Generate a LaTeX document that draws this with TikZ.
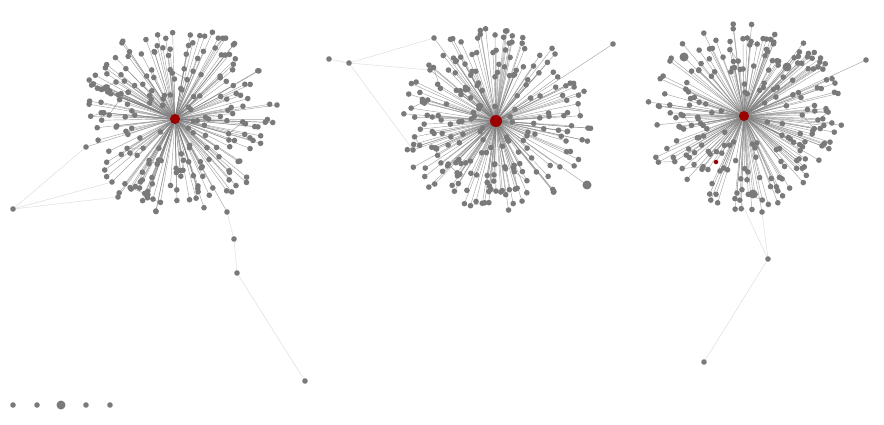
\documentclass[tikz,border=0pt]{standalone}
\definecolor{dotgray}{HTML}{7A7A7A}
\definecolor{hubred}{HTML}{9A0000}
\definecolor{edgegray}{HTML}{808080}
% place random leaf coordinates around a hub and draw hub edges
\newcommand\makestar[5]{%
  \xdef\qx{#2}\xdef\qy{#3}%
  \foreach \i in {1,...,#5}{%
    \pgfmathsetmacro\ang{360*rnd}%
    \pgfmathsetmacro\rad{#4*(0.12+0.88*sqrt(rnd))}%
    \pgfmathsetmacro\px{#2+\rad*cos(\ang)}%
    \pgfmathsetmacro\py{#3+0.97*\rad*sin(\ang)}%
    \coordinate (#1p\i) at (\px,\py);%
    \draw[edge] (#1) -- (#1p\i);%
    \pgfmathsetmacro\dd{veclen(\px-\qx,\py-\qy)}%
    \ifdim\dd pt<22pt\relax
      \ifdim\rad pt>40pt\relax
        \pgfmathtruncatemacro\j{\i-1}%
        \draw[edge] (#1p\j) -- (#1p\i);%
      \fi
    \fi
    \xdef\qx{\px}\xdef\qy{\py}%
  }}
\newcommand\makeleaves[2]{%
  \foreach \i in {1,...,#2}{\node[dot] (#1n\i) at (#1p\i) {};}}
\begin{document}
\begin{tikzpicture}[x=1pt,y=-1pt,
  dot/.style={circle,fill=dotgray,draw=none,inner sep=0pt,minimum size=5.6pt},
  bigdot/.style={dot,minimum size=9pt},
  hub/.style={circle,fill=hubred,draw=none,inner sep=0pt,minimum size=10pt},
  edge/.style={draw=edgegray,line width=0.45pt,opacity=0.7},
  faint/.style={draw=gray!30,line width=0.4pt}]
\fill[white] (0,0) rectangle (884,425);
\useasboundingbox (0,0) rectangle (884,425);
\pgfmathsetseed{11}
% hub positions
\coordinate (A) at (175,119);
\coordinate (B) at (496,121);
\coordinate (C) at (744,116);
% fixed positions
\coordinate (A1) at (13,209);
\coordinate (A2) at (86,147);
\coordinate (A3) at (118,197);
\coordinate (A4) at (227,212);
\coordinate (A5) at (234,239);
\coordinate (A6) at (237,273);
\coordinate (A7) at (305,381);
\coordinate (A8) at (277,105);
\coordinate (A9) at (112,182);
\coordinate (B1) at (329,59);
\coordinate (B2) at (349,63);
\coordinate (B3) at (434,38);
\coordinate (B4) at (430,70);
\coordinate (B5) at (413,150);
\coordinate (B6) at (587,185);
\coordinate (B7) at (613,44);
\coordinate (C1) at (716,162);
\coordinate (C2) at (684,57);
\coordinate (C3) at (787,67);
\coordinate (C4) at (753,194);
\coordinate (C5) at (866,60);
\coordinate (C6) at (737,193);
\coordinate (C7) at (762,212);
\coordinate (C8) at (768,259);
\coordinate (C9) at (704,362);
% random leaves and hub edges
\makestar{A}{175}{119}{98}{230}
\makestar{B}{496}{121}{96}{230}
\makestar{C}{744}{116}{98}{230}
% fixed edges
\draw[faint] (A1) -- (A2);
\draw[faint] (A1) -- (A3);
\draw[faint] (A1) -- (A9);
\foreach \t in {A2,A3,A4,A8,A9}{\draw[edge] (A) -- (\t);}
\draw[faint] (A4) -- (A5);
\draw[faint] (A5) -- (A6);
\draw[faint] (A6) -- (A7);
\draw[faint] (B1) -- (B2);
\draw[faint] (B2) -- (B3);
\draw[faint] (B2) -- (B4);
\draw[faint] (B2) -- (B5);
\foreach \t in {B3,B4,B5,B6,B7}{\draw[edge] (B) -- (\t);}
\foreach \t in {C1,C2,C3,C4,C5,C6,C7}{\draw[edge] (C) -- (\t);}
\draw[faint] (C6) -- (C8);
\draw[faint] (C7) -- (C8);
\draw[faint] (C8) -- (C9);
% leaf nodes
\makeleaves{A}{230}
\makeleaves{B}{230}
\makeleaves{C}{230}
\foreach \t in {A1,A2,A3,A4,A5,A6,A7,A8,A9,B1,B2,B3,B4,B5,B7,C5,C6,C7,C8,C9}{\node[dot] (n\t) at (\t) {};}
\foreach \t in {B6,C2,C3,C4}{\node[bigdot] (n\t) at (\t) {};}
\node[hub,minimum size=4.5pt] (nC1) at (C1) {};
% isolated nodes
\node[dot] (I1) at (13,405) {};
\node[dot] (I2) at (37,405) {};
\node[bigdot] (I3) at (61,405) {};
\node[dot] (I4) at (86,405) {};
\node[dot] (I5) at (110,405) {};
% hubs
\node[hub] (hA) at (A) {};
\node[hub,minimum size=12pt] (hB) at (B) {};
\node[hub] (hC) at (C) {};
\end{tikzpicture}
\end{document}
